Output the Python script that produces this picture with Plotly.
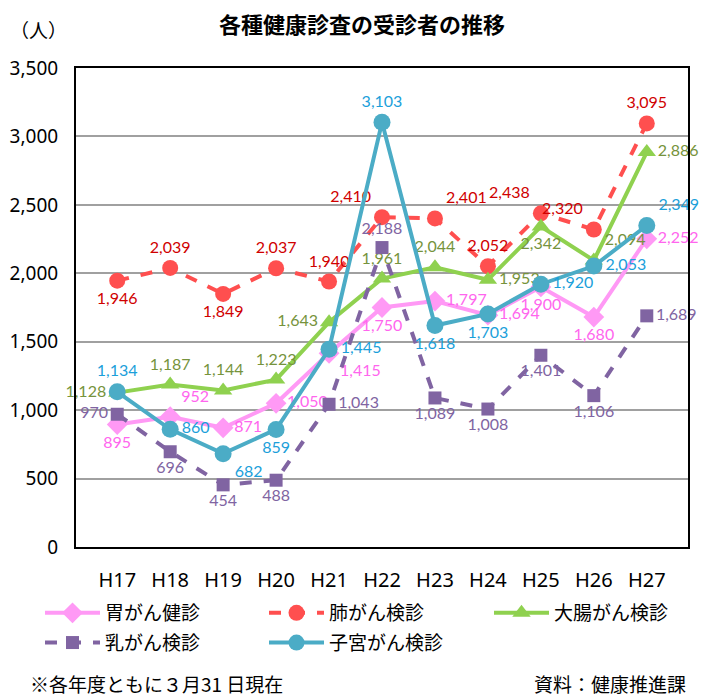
import plotly.graph_objects as go

years = ["H17", "H18", "H19", "H20", "H21", "H22", "H23", "H24", "H25", "H26", "H27"]

stomach = [895, 952, 871, 1050, 1415, 1750, 1797, 1694, 1900, 1680, 2252]
lung = [1946, 2039, 1849, 2037, 1940, 2410, 2401, 2052, 2438, 2320, 3095]
colon = [1128, 1187, 1144, 1223, 1643, 1961, 2044, 1953, 2342, 2094, 2886]
breast = [970, 696, 454, 488, 1043, 2188, 1089, 1008, 1401, 1106, 1689]
uterus = [1134, 860, 682, 859, 1445, 3103, 1618, 1703, 1920, 2053, 2349]

names = ["胃がん健診", "肺がん検診", "大腸がん検診", "乳がん検診", "子宮がん検診"]

# label placement (style)
pos_stomach = ["bottom center", "top right", "middle right", "middle right", "bottom right",
               "bottom center", "middle right", "middle right", "bottom center", "bottom center", "middle right"]
pos_lung = ["bottom center", "top center", "bottom center", "top center", "top center",
            "top left", "top right", "top center", "top left", "top left", "top center"]
pos_colon = ["middle left", "top center", "top center", "top center", "middle left",
             "top center", "top center", "middle right", "bottom center", "top right", "middle right"]
pos_breast = ["middle left", "bottom center", "bottom center", "bottom center", "middle right",
              "top center", "bottom center", "bottom center", "bottom center", "bottom center", "middle right"]
pos_uterus = ["top center", "middle right", "bottom right", "bottom center", "middle right",
              "top center", "bottom center", "bottom center", "middle right", "middle right", "top right"]

LABEL_FONT = "Lato, 'Noto Sans', sans-serif"
CJK = "'Noto Sans CJK JP', sans-serif"

# the page adds an 8px body margin, so the figure is 8px smaller on each axis
W, H = 710, 689
ML, MR, MT, MB = 68, 30, 60, 150

fig = go.Figure()

def add(name, vals, pos, lcolor, tcolor, dash, symbol, msize, lw, legend):
    fig.add_trace(go.Scatter(
        x=years, y=vals, name=name, mode="lines+markers+text",
        line=dict(color=lcolor, width=lw, dash=dash),
        marker=dict(symbol=symbol, size=msize, color=lcolor),
        text=[f"{v:,}" for v in vals], textposition=pos,
        textfont=dict(color=tcolor, size=16, family=LABEL_FONT),
        cliponaxis=False, legend=legend, legendgroup=name,
    ))

add(names[0], stomach, pos_stomach, "#FF99F5", "#FF66EE", "solid", "diamond", 16, 4, "legend")
add(names[1], lung, pos_lung, "#FF4F4F", "#D00000", "dash", "circle", 16, 4, "legend2")
add(names[2], colon, pos_colon, "#8FD14F", "#76933C", "solid", "triangle-up", 16, 4, "legend3")
add(names[3], breast, pos_breast, "#8064A2", "#8064A2", "dash", "square", 13, 4, "legend")
add(names[4], uterus, pos_uterus, "#4BACC6", "#1BA0DA", "solid", "circle", 17, 4, "legend2")

def leg(xpage):
    return dict(
        orientation="v", xref="container", yref="container",
        x=(xpage - 8 - 8) / W, y=1 - 586 / H, xanchor="left", yanchor="top",
        font=dict(size=19, family=CJK, color="#000000"),
        itemwidth=55, tracegroupgap=2, bgcolor="rgba(0,0,0,0)",
    )

fig.update_layout(
    width=W, height=H,
    margin=dict(l=ML, r=MR, t=MT, b=MB, autoexpand=False),
    paper_bgcolor="white", plot_bgcolor="white",
    font=dict(family=CJK, color="#000000"),
    showlegend=True,
    legend=leg(48), legend2=leg(272), legend3=leg(497),
    xaxis=dict(
        type="category", showgrid=False, showline=True, linecolor="#000000", linewidth=2,
        mirror=True, ticks="", automargin=False,
        tickfont=dict(size=20, family="'Noto Sans', sans-serif", color="#000000"),
        ticklabelstandoff=14,
    ),
    yaxis=dict(
        range=[0, 3500], dtick=500, tickformat=",", showgrid=True, gridcolor="#A0A0A0", gridwidth=1.5,
        showline=True, linecolor="#000000", linewidth=2, mirror=True, zeroline=False, ticks="",
        automargin=False,
        tickfont=dict(size=19, family="'Noto Sans', sans-serif", color="#000000"),
        ticklabelstandoff=12,
    ),
)

# pixel helpers (page pixels) relative to the plot area
pw = W - ML - MR
ph = H - MT - MB
def px(x):
    return (x - 8 - ML) / pw
def py(y):
    return (H - MB - (y - 8)) / ph

fig.update_layout(annotations=[
    dict(text="<b>各種健康診査の受診者の推移</b>", xref="paper", yref="paper", x=px(362), y=py(23),
         xanchor="center", yanchor="middle", showarrow=False,
         font=dict(size=22, family=CJK, color="#000000")),
    dict(text="（人）", xref="paper", yref="paper", x=px(8), y=py(30), showarrow=False,
         xanchor="left", yanchor="middle", font=dict(size=19, family=CJK, color="#000000")),
    dict(text="※各年度ともに３月31 日現在", xref="paper", yref="paper", x=px(28), y=py(683), showarrow=False,
         xanchor="left", yanchor="middle", font=dict(size=19, family=CJK, color="#000000")),
    dict(text="資料：健康推進課", xref="paper", yref="paper", x=px(688), y=py(683), showarrow=False,
         xanchor="right", yanchor="middle", font=dict(size=19, family=CJK, color="#000000")),
])

fig.write_html("out.html")
